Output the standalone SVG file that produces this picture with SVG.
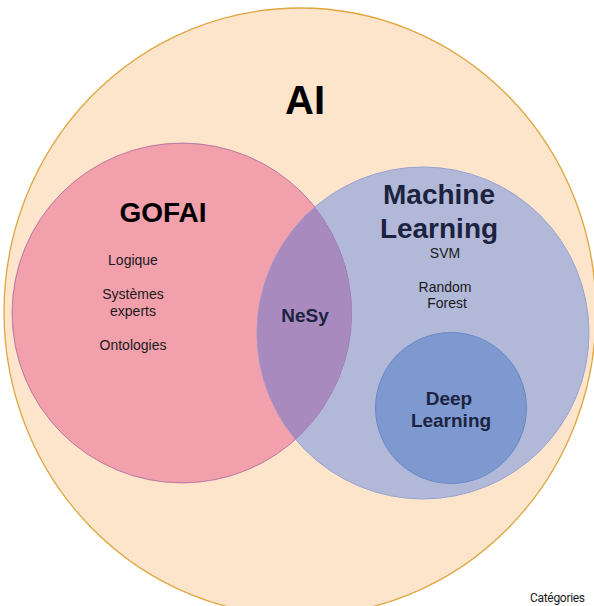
<svg xmlns="http://www.w3.org/2000/svg" width="594" height="606" viewBox="0 0 594 606">
  <style>
    .t { font-family: "Liberation Sans", Arial, sans-serif; text-anchor: middle; }
    .big { font-weight: bold; font-size: 28px; }
    .mid { font-weight: bold; font-size: 19px; fill: #1c2340; }
    .small { font-size: 14px; fill: #1a1a1a; }
  </style>
  <defs>
    <clipPath id="clipGofai">
      <circle cx="182" cy="313" r="170"/>
    </clipPath>
  </defs>
  <rect x="0" y="0" width="594" height="606" fill="#ffffff"/>
  <g id="node-ai">
    <ellipse cx="300" cy="312" rx="296" ry="304" fill="#fde5cc" stroke="#e0a640" stroke-width="1.3"/>
    <text class="t" x="305" y="114" font-size="40" font-weight="bold" fill="#000">AI</text>
  </g>
  <g id="node-gofai">
    <circle cx="182" cy="313" r="170" fill="#f1a0ac" stroke="#e58b9c" stroke-width="1"/>
    <text class="t big" x="163" y="222" fill="#000">GOFAI</text>
    <text class="t small" x="133" y="265">Logique</text>
    <text class="t small" x="133" y="299">Systèmes</text>
    <text class="t small" x="133" y="316">experts</text>
    <text class="t small" x="133" y="350">Ontologies</text>
  </g>
  <g id="node-ml">
    <circle cx="423" cy="333" r="166" fill="#b2b9d8" stroke="#98a2d0" stroke-width="1"/>
    <text class="t big" x="439" y="204" fill="#1c2340">Machine</text>
    <text class="t big" x="439" y="238" fill="#1c2340">Learning</text>
    <text class="t small" x="445" y="258">SVM</text>
    <text class="t small" x="445" y="292">Random</text>
    <text class="t small" x="447" y="308">Forest</text>
  </g>
  <g id="node-nesy">
    <circle cx="423" cy="333" r="166" fill="#a88abe" clip-path="url(#clipGofai)"/>
    <circle cx="182" cy="313" r="170" fill="none" stroke="#9a78b2" stroke-width="1" clip-path="url(#clipGofai)"/>
    <text class="t mid" x="305" y="322">NeSy</text>
  </g>
  <g id="node-dl">
    <circle cx="451" cy="408" r="75.5" fill="#7e99d0" stroke="#6c88c4" stroke-width="1"/>
    <text class="t mid" x="449" y="405">Deep</text>
    <text class="t mid" x="451" y="427">Learning</text>
  </g>
  <g id="connectors"/>
  <text x="530" y="602" font-family="Roboto, 'DejaVu Sans', sans-serif" font-size="12" fill="#1a1a1a" letter-spacing="-0.3">Catégories</text>
</svg>
